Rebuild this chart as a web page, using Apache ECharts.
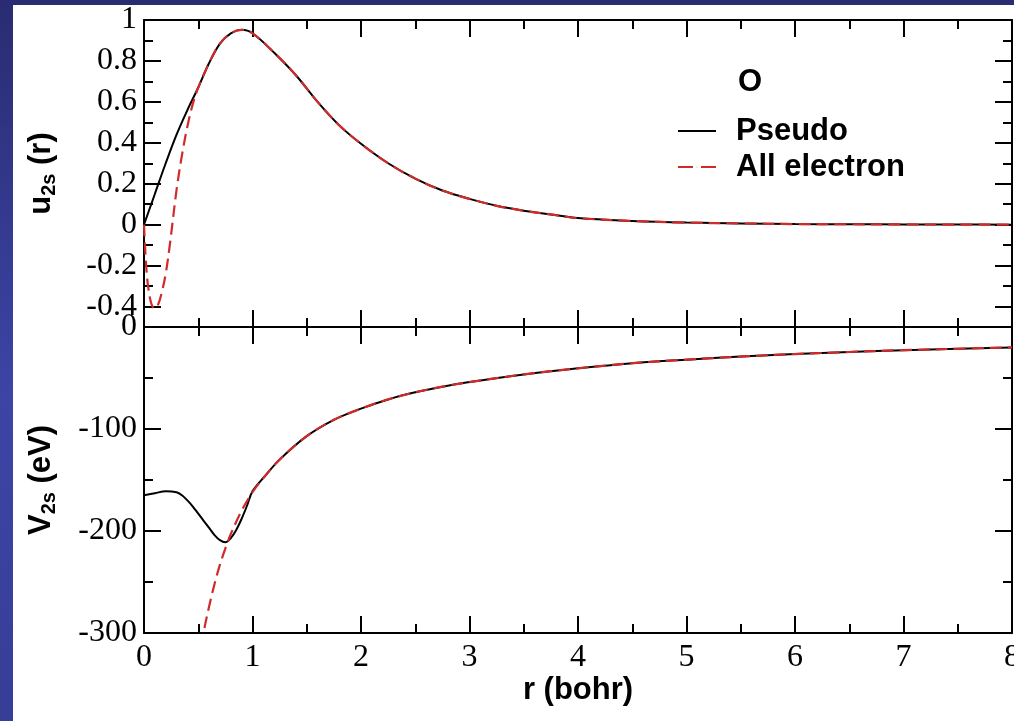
<!DOCTYPE html>
<html>
<head>
<meta charset="utf-8">
<script src="https://cdn.jsdelivr.net/npm/echarts@6/dist/echarts.min.js"></script>
<style>
html, body { margin: 0; padding: 0; width: 1014px; height: 721px; overflow: hidden;
  background: linear-gradient(to bottom, #292c72 0%, #3c45a6 55%, #363e96 100%); }
#chart { position: absolute; left: 13px; top: 5px; width: 1001px; height: 716px; background: #fff; }
</style>
</head>
<body>
<div id="chart"></div>
<script>
// u_2s(r), all electron
var rAeU = [0, 0.02, 0.04, 0.07, 0.1, 0.13, 0.16, 0.2, 0.24, 0.3, 0.35, 0.4, 0.45, 0.5, 0.6, 0.7, 0.8, 0.9, 1.0,
  1.2, 1.4, 1.6, 1.8, 2.0, 2.25, 2.5, 2.75, 3.0, 3.25, 3.5, 3.75, 4.0, 4.5, 5.0, 5.5, 6.0, 6.5, 7.0, 7.5, 8.0];
var uAe = [0, -0.2, -0.31, -0.39, -0.41, -0.39, -0.34, -0.24, -0.09, 0.17, 0.34, 0.48, 0.59, 0.67, 0.79, 0.885, 0.935, 0.952, 0.935,
  0.84, 0.73, 0.6, 0.485, 0.395, 0.3, 0.225, 0.167, 0.126, 0.092, 0.068, 0.05, 0.032, 0.018, 0.01, 0.006, 0.003, 0.002, 0.001, 0.0005, 0];
// u_2s(r), pseudo
var rPsU = [0, 0.1, 0.2, 0.3, 0.4, 0.5, 0.6, 0.7, 0.8, 0.9, 1.0,
  1.2, 1.4, 1.6, 1.8, 2.0, 2.25, 2.5, 2.75, 3.0, 3.25, 3.5, 3.75, 4.0, 4.5, 5.0, 5.5, 6.0, 6.5, 7.0, 7.5, 8.0];
var uPs = [0, 0.15, 0.30, 0.44, 0.56, 0.67, 0.79, 0.885, 0.935, 0.952, 0.935,
  0.84, 0.73, 0.6, 0.485, 0.395, 0.3, 0.225, 0.167, 0.126, 0.092, 0.068, 0.05, 0.032, 0.018, 0.01, 0.006, 0.003, 0.002, 0.001, 0.0005, 0];
// V_2s (eV), all electron
var rAeV = [0.5, 0.55, 0.6, 0.65, 0.7, 0.75, 0.8, 0.9, 1.0, 1.1, 1.25, 1.5, 1.75, 2.0, 2.25, 2.5, 2.75, 3.0,
  3.5, 4.0, 4.5, 5.0, 5.5, 6.0, 6.5, 7.0, 7.5, 8.0];
var vAe = [-330, -299, -274, -252, -233, -217, -203, -180, -162, -148, -130, -107, -91, -80, -71, -64, -58.5, -54,
  -46.5, -40.5, -35.5, -32, -29, -26.5, -24.5, -22.7, -21.3, -20];
// V_2s (eV), pseudo
var rPsV = [0, 0.1, 0.2, 0.3, 0.35, 0.4, 0.45, 0.5, 0.55, 0.6, 0.65, 0.7, 0.75, 0.8, 0.85, 0.9, 0.95, 1.0,
  1.1, 1.25, 1.5, 1.75, 2.0, 2.25, 2.5, 2.75, 3.0, 3.5, 4.0, 4.5, 5.0, 5.5, 6.0, 6.5, 7.0, 7.5, 8.0];
var vPs = [-165, -163, -161, -162, -165, -170, -176, -183, -190, -197, -204, -209, -211, -207, -199, -188, -175, -161,
  -148, -130, -107, -91, -80, -71, -64, -58.5, -54, -46.5, -40.5, -35.5, -32, -29, -26.5, -24.5, -22.7, -21.3, -20];

var uMajor = [-0.4, -0.2, 0, 0.2, 0.4, 0.6, 0.8, 1];

function zip(xs, ys) {
  return xs.map(function (x, i) { return [x, ys[i]]; });
}

var serif = { fontFamily: 'Liberation Serif', fontSize: 32, color: '#000' };
var bold = { fontFamily: 'Liberation Sans', fontWeight: 'bold', fontSize: 31, color: '#000' };
var black2 = { color: '#000', width: 2 };
var red = '#d02a2a';

function xAx(grid, pos, labels) {
  return {
    type: 'value', gridIndex: grid, position: pos, min: 0, max: 8, interval: 1,
    axisLine: { show: true, onZero: false, lineStyle: black2 },
    axisTick: { show: true, inside: true, length: 17, lineStyle: black2 },
    minorTick: { show: true, splitNumber: 2, length: 9, lineStyle: black2 },
    axisLabel: Object.assign({ show: labels, margin: 9 }, serif),
    splitLine: { show: false }
  };
}

var subName = function (a, b) {
  return '{a|' + a + '}{s|2s}{a|' + b + '}';
};
var nameRich = {
  a: Object.assign({ lineHeight: 36 }, bold),
  s: { fontFamily: 'Liberation Sans', fontWeight: 'bold', fontSize: 20, lineHeight: 20, color: '#000', verticalAlign: 'bottom' }
};

var chart = echarts.init(document.getElementById('chart'));

var option = {
  animation: false,
  title: { text: 'O', left: 725, top: 62, padding: 0, textStyle: Object.assign({}, bold) },
  legend: {
    orient: 'vertical', left: 664, top: 110, padding: 0,
    itemWidth: 38, itemHeight: 1, itemGap: 4, selectedMode: false,
    data: [
      { name: 'Pseudo' },
      { name: 'All electron', lineStyle: { type: [15, 8] } }
    ],
    textStyle: Object.assign({ lineHeight: 32, padding: [0, 0, 0, 15] }, bold)
  },
  grid: [
    { left: 131, top: 15, width: 868, height: 307, containLabel: false, outerBoundsMode: 'none' },
    { left: 131, top: 322, width: 868, height: 306, containLabel: false, outerBoundsMode: 'none' }
  ],
  xAxis: [
    xAx(0, 'bottom', false),
    xAx(0, 'top', false),
    Object.assign(xAx(1, 'bottom', true), {
      name: 'r (bohr)', nameLocation: 'middle', nameGap: 41, nameTextStyle: Object.assign({}, bold)
    }),
    xAx(1, 'top', false)
  ],
  yAxis: [
    {
      type: 'value', gridIndex: 0, position: 'left', min: -0.5, max: 1,
      axisLine: { show: true, onZero: false, lineStyle: black2 },
      axisTick: { show: true, inside: true, length: 17, customValues: uMajor, lineStyle: black2 },
      axisLabel: Object.assign({ margin: 7, customValues: uMajor, formatter: function (v) { return String(+(+v).toFixed(1)); } }, serif),
      splitLine: { show: false },
      name: subName('u', ' (r)'), nameLocation: 'middle', nameRotate: 90, nameGap: 85,
      nameTextStyle: { rich: nameRich }
    },
    {
      type: 'value', gridIndex: 0, position: 'left', min: -0.5, max: 1, interval: 0.1,
      axisLine: { show: false, onZero: false },
      axisTick: { show: true, inside: true, length: 9, lineStyle: black2 },
      axisLabel: { show: false }, splitLine: { show: false }
    },
    {
      type: 'value', gridIndex: 0, position: 'right', min: -0.5, max: 1,
      axisLine: { show: true, onZero: false, lineStyle: black2 },
      axisTick: { show: true, inside: true, length: 17, customValues: uMajor, lineStyle: black2 },
      axisLabel: { show: false }, splitLine: { show: false }
    },
    {
      type: 'value', gridIndex: 0, position: 'right', min: -0.5, max: 1, interval: 0.1,
      axisLine: { show: false, onZero: false },
      axisTick: { show: true, inside: true, length: 9, lineStyle: black2 },
      axisLabel: { show: false }, splitLine: { show: false }
    },
    {
      type: 'value', gridIndex: 1, position: 'left', min: -300, max: 0, interval: 100,
      axisLine: { show: true, onZero: false, lineStyle: black2 },
      axisTick: { show: true, inside: true, length: 17, lineStyle: black2 },
      minorTick: { show: true, splitNumber: 2, length: 9, lineStyle: black2 },
      axisLabel: Object.assign({ margin: 7 }, serif),
      splitLine: { show: false },
      name: subName('V', ' (eV)'), nameLocation: 'middle', nameRotate: 90, nameGap: 85,
      nameTextStyle: { rich: nameRich }
    },
    {
      type: 'value', gridIndex: 1, position: 'right', min: -300, max: 0, interval: 100,
      axisLine: { show: true, onZero: false, lineStyle: black2 },
      axisTick: { show: true, inside: true, length: 17, lineStyle: black2 },
      minorTick: { show: true, splitNumber: 2, length: 9, lineStyle: black2 },
      axisLabel: { show: false }, splitLine: { show: false }
    }
  ],
  series: [
    {
      name: 'Pseudo', type: 'line', xAxisIndex: 0, yAxisIndex: 0, data: zip(rPsU, uPs),
      symbol: 'none', smooth: 0.35, lineStyle: { color: '#000', width: 2 }, itemStyle: { color: '#000' }, z: 2
    },
    {
      name: 'All electron', type: 'line', xAxisIndex: 0, yAxisIndex: 0, data: zip(rAeU, uAe),
      symbol: 'none', smooth: 0.35, lineStyle: { color: red, width: 2.2, type: [12, 6] }, itemStyle: { color: red }, z: 3
    },
    {
      name: 'Pseudo', type: 'line', xAxisIndex: 2, yAxisIndex: 4, data: zip(rPsV, vPs),
      symbol: 'none', smooth: 0.35, lineStyle: { color: '#000', width: 2 }, itemStyle: { color: '#000' }, z: 2
    },
    {
      name: 'All electron', type: 'line', xAxisIndex: 2, yAxisIndex: 4, data: zip(rAeV, vAe),
      symbol: 'none', smooth: 0.35, clip: true, lineStyle: { color: red, width: 2.2, type: [12, 6] }, itemStyle: { color: red }, z: 3
    }
  ]
};

chart.setOption(option);
</script>
</body>
</html>
